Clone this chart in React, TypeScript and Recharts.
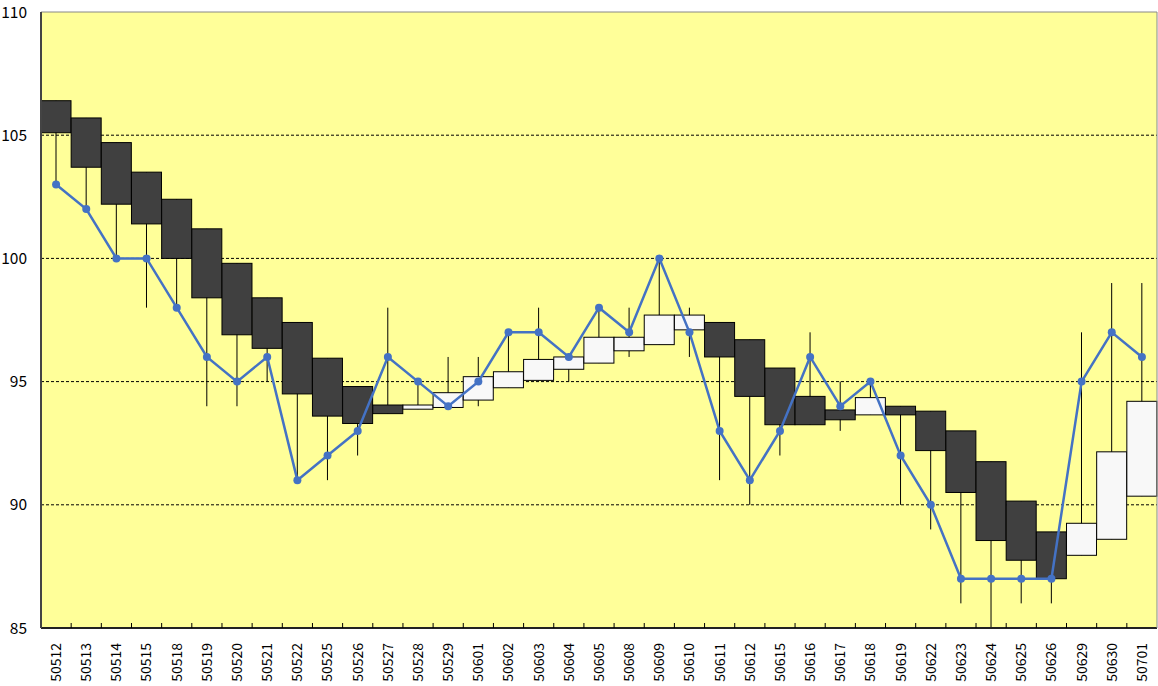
import React from 'react'
import { ComposedChart, Bar, Line, XAxis, YAxis, CartesianGrid, ReferenceLine } from 'recharts'

const dates = [
  '50512', '50513', '50514', '50515', '50518', '50519', '50520', '50521', '50522', '50525',
  '50526', '50527', '50528', '50529', '50601', '50602', '50603', '50604', '50605', '50608',
  '50609', '50610', '50611', '50612', '50615', '50616', '50617', '50618', '50619', '50622',
  '50623', '50624', '50625', '50626', '50629', '50630', '50701',
]
const boxOpen = [
  106.4, 105.7, 104.7, 103.5, 102.4, 101.2, 99.8, 98.4, 97.4, 95.95,
  94.8, 94.05, 93.88, 93.95, 94.25, 94.75, 95.05, 95.5, 95.75, 96.25,
  96.5, 97.1, 97.4, 96.7, 95.55, 94.4, 93.85, 93.65, 94.0, 93.8,
  93.0, 91.75, 90.15, 88.9, 87.95, 88.6, 90.35,
]
const boxClose = [
  105.1, 103.7, 102.2, 101.4, 100.0, 98.4, 96.9, 96.35, 94.5, 93.6,
  93.3, 93.7, 94.05, 94.55, 95.2, 95.4, 95.9, 96.0, 96.8, 96.8,
  97.7, 97.7, 96.0, 94.4, 93.25, 93.25, 93.45, 94.35, 93.65, 92.2,
  90.5, 88.55, 87.75, 87.0, 89.25, 92.15, 94.2,
]
const wickHigh = [
  106.4, 105.7, 104.7, 103.5, 102.4, 101.2, 99.8, 98.4, 97.4, 95.95,
  94.8, 98, 95, 96, 96, 97, 98, 96.0, 98, 98,
  100, 98, 97.4, 96.7, 95.55, 97, 95, 95, 94.0, 93.8,
  93.0, 91.75, 90.15, 88.9, 97, 99, 99,
]
const wickLow = [
  103, 102, 100, 98, 98, 94, 94, 95, 91, 91,
  92, 93.7, 93.88, 93.95, 94, 94.75, 95.05, 95, 95.75, 96,
  96.5, 96, 91, 90, 92, 93.25, 93, 93.65, 90, 89,
  86, 85, 86, 86, 87.95, 88.6, 90.35,
]
const closes = [
  103, 102, 100, 100, 98, 96, 95, 96, 91, 92,
  93, 96, 95, 94, 95, 97, 97, 96, 98, 97,
  100, 97, 93, 91, 93, 96, 94, 95, 92, 90,
  87, 87, 87, 87, 95, 97, 96,
]
const yTicks = [85, 90, 95, 100, 105, 110]
const gridValues = [90, 95, 100, 105]

const data = dates.map((d, i) => ({
  date: d,
  box: [Math.min(boxOpen[i], boxClose[i]), Math.max(boxOpen[i], boxClose[i])],
  wick: [wickLow[i], wickHigh[i]],
  up: boxClose[i] > boxOpen[i],
  close: closes[i],
}))

const W = 1158
const H = 686
const FONT = '"Noto Sans CJK JP", "Noto Sans", sans-serif'
const band = (W - 41 - 1) / dates.length

const BoxShape = (p: any) => (
  <rect
    x={p.x}
    y={p.y}
    width={p.width}
    height={Math.max(p.height, 1)}
    fill={p.payload.up ? '#f8f8f8' : '#404040'}
    stroke="#000"
    strokeWidth={1}
  />
)

const WickShape = (p: any) => {
  const cx = p.x + p.width / 2
  return <line x1={cx} x2={cx} y1={p.y} y2={p.y + p.height} stroke="#000" strokeWidth={1} />
}

// label centred under the candle, tick mark on the boundary between candles
const DateTick = (p: any) => {
  const { x, y, payload, index } = p
  return (
    <g>
      {index > 0 && (
        <line x1={x - band / 2} x2={x - band / 2} y1={y} y2={y - 5} stroke="#000" strokeWidth={1} />
      )}
      <text
        transform={`translate(${x},${y + 15}) rotate(-90)`}
        textAnchor="end"
        dy="0.35em"
        fontSize={14}
        fontFamily={FONT}
        fill="#000"
      >
        {payload.value}
      </text>
    </g>
  )
}

export default function App() {
  return (
    <div style={{ position: 'absolute', left: 0, top: 0, width: W, height: H, background: '#fff' }}>
      <ComposedChart
        width={W}
        height={H}
        data={data}
        margin={{ top: 12, right: 0, bottom: 0, left: 0 }}
        barCategoryGap={0}
        barGap={0}
      >
        <CartesianGrid
          vertical={false}
          horizontalValues={gridValues}
          stroke="#000"
          strokeDasharray="3 2"
          fill="#ffff99"
          fillOpacity={1}
        />
        <XAxis
          xAxisId="a"
          dataKey="date"
          height={58}
          interval={0}
          tickSize={0}
          tickMargin={0}
          tickLine={false}
          axisLine={{ stroke: '#222', strokeWidth: 2 }}
          tick={<DateTick />}
        />
        <XAxis xAxisId="b" dataKey="date" hide />
        <YAxis
          domain={[85, 110]}
          ticks={yTicks}
          width={41}
          tickSize={0}
          tickMargin={14}
          tickLine={false}
          axisLine={{ stroke: '#444', strokeWidth: 2 }}
          tick={{ fill: '#000', fontSize: 15.5, fontFamily: FONT }}
        />
        <YAxis
          yAxisId="r"
          orientation="right"
          domain={[85, 110]}
          width={1}
          tick={false}
          tickLine={false}
          axisLine={{ stroke: '#888', strokeWidth: 1 }}
        />
        <ReferenceLine xAxisId="a" y={110} stroke="#888" strokeWidth={1} />
        <Bar xAxisId="b" dataKey="wick" shape={<WickShape />} isAnimationActive={false} />
        <Bar xAxisId="a" dataKey="box" shape={<BoxShape />} isAnimationActive={false} />
        <Line
          xAxisId="a"
          dataKey="close"
          type="linear"
          stroke="#4472c4"
          strokeWidth={2.5}
          dot={{ r: 4, fill: '#4472c4', stroke: '#4472c4', strokeWidth: 0 }}
          isAnimationActive={false}
        />
      </ComposedChart>
    </div>
  )
}
